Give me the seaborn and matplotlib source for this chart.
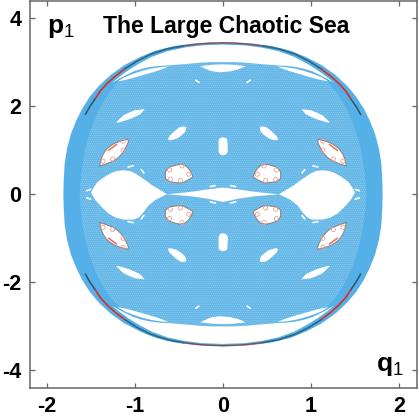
import matplotlib
matplotlib.use('Agg')
import matplotlib.pyplot as plt
import numpy as np
import seaborn as sns

# outer edge of the sea, q<0 p>0 quarter
outer_q = [-1.815, -1.811, -1.80, -1.773, -1.727, -1.667, -1.60, -1.516, -1.413, -1.281, -1.122, -0.94, -0.77,
           -0.561, -0.334, -0.144, 0]
outer_p = [0, 0.318, 0.697, 1.038, 1.38, 1.68, 1.947, 2.212, 2.457, 2.705, 2.932, 3.12, 3.26, 3.364, 3.424, 3.447,
           3.45]

# speckled inner part of the sea
inner_q = [-1.63, -1.62, -1.60, -1.57, -1.53, -1.48, -1.42, -1.36, -1.29, -1.20, -1.08, -0.9, -0.7, -0.5, -0.3, 0]
inner_p = [0, 0.3, 0.65, 1.0, 1.3, 1.6, 1.88, 2.1, 2.32, 2.52, 2.70, 2.84, 2.9, 2.95, 2.98, 3.0]

# white gap below the outer arc, upper edge then sea edge
gap_arc_q = [-1.26, -1.19, -1.08, -0.96, -0.81, -0.63, -0.44, -0.25, 0]
gap_arc_p = [2.53, 2.65, 2.81, 2.96, 3.12, 3.25, 3.33, 3.38, 3.40]
gap_sea_q = [-1.26, -1.15, -1.015, -0.92, -0.826, -0.72, -0.62, -0.485, -0.258, -0.13, 0]
gap_sea_p = [2.53, 2.66, 2.79, 2.85, 2.89, 2.915, 2.925, 2.947, 2.986, 3.0, 3.0]

# thin lenses under the gap
lens_q = [-1.2, -1.12, -1.015, -0.92, -0.826, -0.72, -0.62, -0.68, -0.75, -0.92, -1.08]
lens_p = [2.56, 2.66, 2.74, 2.80, 2.85, 2.885, 2.9, 2.85, 2.80, 2.70, 2.61]
top_lens_q = [-0.26, -0.12, 0, 0.12, 0.26, 0.18, 0.08, -0.04, -0.14, -0.2]
top_lens_p = [2.91, 2.94, 2.95, 2.94, 2.91, 2.84, 2.79, 2.77, 2.80, 2.85]

# big holes either side of the centre, q>0 outline
hole_q = [0.636, 0.71, 0.807, 0.87, 0.939, 0.996, 1.052, 1.128, 1.205, 1.26, 1.318, 1.386, 1.43, 1.477, 1.50,
          1.45, 1.375, 1.30, 1.22, 1.128, 1.015, 0.96, 0.90, 0.845, 0.77, 0.69]
hole_p = [0.0, 0.09, 0.205, 0.30, 0.394, 0.47, 0.523, 0.545, 0.53, 0.49, 0.432, 0.34, 0.27, 0.13, 0.03,
          -0.135, -0.30, -0.44, -0.53, -0.576, -0.576, -0.53, -0.40, -0.25, -0.13, -0.05]

band_q = [-0.636, -0.37, -0.18, 0, 0.18, 0.37, 0.636, 0.37, 0.18, 0, -0.18, -0.37]
band_p = [0.0, 0.053, 0.107, 0.152, 0.107, 0.053, 0.0, -0.045, -0.098, -0.175, -0.098, -0.045]

# slanted holes
slant_q = [-1.216, -1.17, -1.13, -1.06, -0.997, -0.891, -0.94, -1.01, -1.073, -1.186]
slant_p = [1.63, 1.72, 1.795, 1.86, 1.909, 1.932, 1.818, 1.75, 1.698, 1.63]
capsule_q = [-0.625, -0.61, -0.58, -0.53, -0.485, -0.44, -0.417, -0.428, -0.47, -0.523, -0.591, -0.62]
capsule_p = [1.25, 1.32, 1.38, 1.47, 1.53, 1.54, 1.516, 1.416, 1.34, 1.266, 1.227, 1.23]
centre_q = [-0.05, -0.04, 0, 0.04, 0.05, 0.055, 0.03, 0, -0.03, -0.05]
centre_p = [1.22, 1.27, 1.295, 1.27, 1.22, 0.96, 0.90, 0.885, 0.90, 0.96]

# small white dashes
dash_q = [[0.90, 0.93], [1.022, 1.079], [1.505, 1.55], [0.086, 0.144], [0.273, 0.31]]
dash_p = [[0.484, 0.56], [0.644, 0.621], [0.11, 0.08], [0.197, 0.175], [2.54, 2.59]]

# regular islands
small_q = [-0.656, -0.63, -0.599, -0.54, -0.485, -0.43, -0.39, -0.36, -0.341, -0.40, -0.466, -0.53, -0.599, -0.656,
           -0.656]
small_p = [0.507, 0.58, 0.621, 0.66, 0.682, 0.655, 0.583, 0.49, 0.394, 0.32, 0.257, 0.265, 0.28, 0.357, 0.507]
large_q = [-1.402, -1.39, -1.36, -1.318, -1.27, -1.224, -1.15, -1.084, -1.075, -1.09, -1.136, -1.19, -1.243, -1.338,
           -1.402]
large_p = [0.643, 0.78, 0.92, 1.038, 1.11, 1.166, 1.215, 1.25, 1.2, 1.12, 0.95, 0.83, 0.757, 0.682, 0.643]

ring_q = [-0.607, -0.466, -0.39, -0.485, -0.599, -1.364, -1.255, -1.136, -1.136]
ring_p = [0.552, 0.643, 0.455, 0.311, 0.341, 0.75, 0.80, 1.0, 1.205]

# stable orbit on the outer arc
arc_dark_q = [-1.565, -1.516, -1.451]
arc_dark_p = [1.81, 1.985, 2.174]
arc_red_q = [-1.451, -1.394, -1.318, -1.224, -1.11]
arc_red_p = [2.174, 2.348, 2.515, 2.682, 2.856]
arc_mix_q = [-1.11, -0.978, -0.826, -0.637, -0.448]
arc_mix_p = [2.856, 3.023, 3.175, 3.30, 3.37]
arc_top_q = [-0.448, -0.258, -0.144, 0]
arc_top_p = [3.37, 3.415, 3.43, 3.44]
inner_red_q = [-1.30, -1.21]
inner_red_p = [1.0, 1.13]

x_ticks = [-2, -1, 0, 1, 2]
y_ticks = [-4, -2, 0, 2, 4]

sns.set_theme(style='ticks', rc={'axes.unicode_minus': False,
                                 'mathtext.fontset': 'custom',
                                 'mathtext.rm': 'Liberation Sans',
                                 'mathtext.bf': 'Liberation Sans:bold',
                                 'hatch.linewidth': 0.3})
plt.rcParams['font.family'] = ['Liberation Sans', 'DejaVu Sans']

fig = plt.figure(figsize=(4.19, 4.16), dpi=100)
ax = fig.add_axes([29.5 / 419, 28 / 416, 387 / 419, 387.5 / 416])

MIRRORS = [(1, 1), (-1, 1), (1, -1), (-1, -1)]


def whole_shape(qs, ps):
    qs, ps = np.array(qs), np.array(ps)
    q = np.concatenate([qs, -qs[::-1], -qs, qs[::-1]])
    p = np.concatenate([ps, ps[::-1], -ps, -ps[::-1]])
    return q, p


def fill_mirrored(qs, ps, color='white', zorder=3):
    for sx, sy in MIRRORS:
        ax.fill(sx * np.array(qs), sy * np.array(ps), color=color, lw=0, zorder=zorder)


def line_mirrored(qs, ps, color, lw, zorder=5):
    for sx, sy in MIRRORS:
        sns.lineplot(x=sx * np.array(qs), y=sy * np.array(ps), sort=False, estimator=None,
                     color=color, lw=lw, ax=ax, legend=False, zorder=zorder)


q, p = whole_shape(outer_q, outer_p)
ax.fill(q, p, color='#54b0e6', lw=0, zorder=1)
q, p = whole_shape(inner_q, inner_p)
ax.fill(q, p, facecolor='#66b8e8', edgecolor='#9ad1f1', hatch='........', lw=0, zorder=2)

arc_q, arc_p = np.array(gap_arc_q), np.array(gap_arc_p)
sea_q, sea_p = np.array(gap_sea_q), np.array(gap_sea_p)
gap_q = np.concatenate([arc_q, -arc_q[::-1], -sea_q, sea_q[::-1]])
gap_p = np.concatenate([arc_p, arc_p[::-1], sea_p, sea_p[::-1]])
for sy in (1, -1):
    ax.fill(gap_q, sy * gap_p, color='white', lw=0, zorder=3)
    ax.fill(top_lens_q, sy * np.array(top_lens_p), color='white', lw=0, zorder=3)
    ax.fill(centre_q, sy * np.array(centre_p), color='white', lw=0, zorder=3)

fill_mirrored(lens_q, lens_p)
fill_mirrored(slant_q, slant_p)
fill_mirrored(capsule_q, capsule_p)
for sx in (1, -1):
    ax.fill(sx * np.array(hole_q), hole_p, color='white', lw=0, zorder=3)
ax.fill(band_q, band_p, color='white', lw=0, zorder=3)

for dq, dp in zip(dash_q, dash_p):
    line_mirrored(dq, dp, 'white', 1.2, zorder=4)

fill_mirrored(small_q, small_p)
fill_mirrored(large_q, large_p)
line_mirrored(small_q, small_p, '#888888', 0.8)
line_mirrored(large_q, large_p, '#888888', 0.8)

for sx, sy in MIRRORS:
    sns.scatterplot(x=sx * np.array(ring_q), y=sy * np.array(ring_p), s=9, marker='o',
                    facecolors='none', edgecolor='#ee9d92', linewidth=0.6, ax=ax, legend=False, zorder=6)

line_mirrored(inner_red_q, inner_red_p, '#ec7264', 1.2, zorder=6)
line_mirrored(arc_dark_q, arc_dark_p, '#2f5468', 1.1)
line_mirrored(arc_red_q, arc_red_p, '#d8301f', 1.2)
line_mirrored(arc_mix_q, arc_mix_p, '#2f6485', 1.2)
line_mirrored(arc_top_q, arc_top_p, '#8a4a55', 1.0)

ax.set_xlim(-2.2, 2.2)
ax.set_ylim(-4.4, 4.4)
ax.set_xticks(x_ticks)
ax.set_yticks(y_ticks)
ax.set_xticklabels([str(v) for v in x_ticks], fontsize=15.5, fontweight='bold', color='black')
ax.set_yticklabels([str(v) for v in y_ticks], fontsize=15.5, fontweight='bold', color='black')
ax.tick_params(direction='in', length=3.6, width=0.9, color='#666666', top=True, right=True, pad=6)
for spine in ax.spines.values():
    spine.set_color('#666666')
    spine.set_linewidth(1.1)
    spine.set_zorder(8)

ax.text(0.04, 3.81, 'The Large Chaotic Sea', ha='center', va='center', fontsize=16.5,
        fontweight='bold', color='black')
ax.text(-2.0, 3.78, r'$\mathbf{p}_{\mathrm{1}}$', ha='left', va='center', fontsize=19, color='black')
ax.text(1.74, -3.91, r'$\mathbf{q}_{\mathrm{1}}$', ha='left', va='center', fontsize=19, color='black')

fig.savefig('out.png', dpi=100)
